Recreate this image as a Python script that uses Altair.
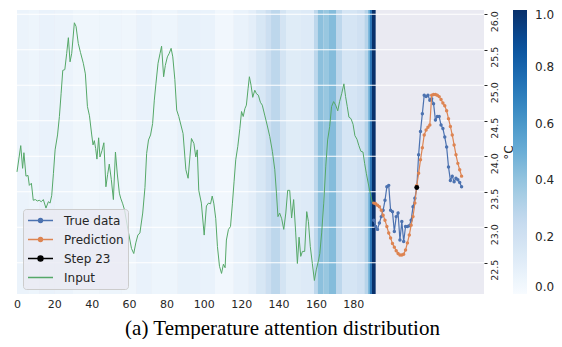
import altair as alt
import pandas as pd

# ---------------- data ----------------
# attention weights (heat-map bands over the 192 input steps)
att_start = [0, 6, 12, 20, 30, 44, 56, 64, 72, 86, 98, 106, 116, 124, 128, 133, 136, 141, 144, 152,
             159, 161, 164, 167, 171, 174, 182, 186, 188, 189, 190]
att_end = att_start[1:] + [192]
att_value = [0.06, 0.05, 0.07, 0.06, 0.04, 0.05, 0.04, 0.07, 0.05, 0.08,
             0.07, 0.03, 0.07, 0.10, 0.16, 0.22, 0.28, 0.18, 0.12, 0.13,
             0.28, 0.42, 0.39, 0.44, 0.28, 0.17, 0.20, 0.30, 0.50, 0.75, 1.0]

# input temperature (vertices)
input_step = [0, 2.0, 3.0, 3.7, 4.8, 5.9, 6.6, 7.7, 8.7, 9.8, 10.9, 11.9, 13.0, 14.1, 15.5, 16.8, 17.7,
              18.6, 19.5, 20.4, 21.7, 22.7, 23.6, 24.5, 25.6, 26.6, 27.5, 28.4, 29.3, 30.7, 31.6, 32.8,
              34.0, 35.5, 36.6, 37.7, 38.8, 40.0, 40.7, 41.4, 42.1, 42.8, 43.7, 44.4, 45.5, 46.5, 47.6,
              48.5, 49.4, 50.5, 51.6, 52.7, 53.7, 54.8, 55.5, 56.6, 57.6, 59.5, 61.3, 62.5, 63.6, 64.7,
              65.8, 67.3, 68.5, 69.4, 70.4, 71.5, 72.6, 73.5, 74.4, 75.5, 76.6, 77.4, 78.5, 79.4, 80.5,
              81.5, 82.5, 83.4, 84.5, 85.5, 86.6, 88.9, 90.4, 91.6, 93.4, 94.7, 95.7, 96.5, 97.3, 98.7,
              100.2, 101.4, 102.5, 103.6, 104.5, 105.4, 106.4, 107.3, 108.4, 109.5, 110.5, 111.4, 112.1,
              113.2, 114.3, 115.3, 116.2, 117.1, 118.2, 119.3, 120.2, 121.1, 122.0, 122.8, 123.7, 124.4,
              125.3, 126.2, 127.3, 128.2, 129.2, 130.3, 131.3, 132.6, 133.9, 135.3, 136.7, 138.0, 138.9,
              139.7, 140.6, 141.7, 142.8, 143.9, 144.9, 146.0, 147.0, 148.1, 149.2, 150.1, 151.0, 151.9,
              152.8, 154.0, 155.1, 156.0, 157.0, 158.1, 159.2, 160.2, 161.3, 162.1, 163.1, 164.2, 165.3,
              166.3, 167.4, 168.4, 169.5, 170.6, 171.7, 172.7, 173.8, 175.0, 175.9, 176.8, 177.7, 178.8,
              179.9, 180.9, 182.0, 183.0, 184.1, 185.2, 186.1, 187.0, 188.1, 189.1, 190.2, 191.0]
input_temp = [23.78, 24.15, 23.83, 24.05, 23.72, 23.73, 23.59, 23.62, 23.38, 23.39, 23.37, 23.38, 23.36,
              23.39, 23.27, 23.36, 23.34, 23.45, 23.76, 24.09, 24.30, 24.56, 24.88, 25.21, 25.22, 25.45,
              25.67, 25.33, 25.45, 25.88, 25.83, 25.59, 25.46, 25.31, 25.16, 24.70, 24.57, 24.30, 24.16,
              24.22, 24.11, 23.96, 24.26, 23.99, 24.08, 24.19, 23.57, 23.74, 23.89, 23.67, 23.39, 24.06,
              23.75, 23.48, 23.41, 23.33, 23.24, 22.95, 22.70, 22.63, 22.78, 22.89, 22.92, 23.20, 23.56,
              24.04, 24.23, 24.30, 24.46, 24.79, 25.03, 25.31, 25.45, 25.55, 25.12, 25.28, 25.40, 25.45,
              25.52, 25.40, 25.08, 24.65, 24.56, 24.32, 23.81, 23.69, 24.25, 24.18, 23.99, 24.09, 23.52,
              23.34, 22.89, 23.30, 23.34, 23.33, 23.44, 23.33, 23.12, 22.73, 22.45, 22.35, 22.48, 22.43,
              22.82, 22.97, 23.01, 23.33, 23.64, 23.95, 24.14, 24.39, 24.63, 24.56, 24.67, 24.72, 24.95,
              25.12, 25.00, 24.83, 24.93, 24.88, 24.86, 24.76, 24.72, 24.58, 24.44, 24.28, 24.07, 23.81,
              23.48, 23.15, 23.20, 23.12, 22.97, 23.20, 23.52, 23.52, 23.13, 23.39, 22.92, 22.49, 22.86,
              22.59, 22.66, 22.66, 23.22, 23.08, 22.73, 22.49, 22.25, 22.40, 22.52, 22.63, 22.92, 23.34,
              23.86, 24.23, 24.42, 24.70, 24.77, 24.72, 24.64, 24.77, 24.88, 25.02, 24.84, 24.70, 24.55,
              24.53, 24.45, 24.29, 24.24, 24.15, 24.07, 24.06, 23.90, 23.76, 23.61, 23.48, 23.35, 23.34]
assert len(input_step) == len(input_temp)

# 48-step forecast horizon
forecast_first_step = 191
true_temp = [23.10, 23.01, 22.97, 23.06, 23.15, 23.24, 23.38, 23.57, 23.59, 23.24, 23.22, 22.94,
             23.15, 23.20, 22.82, 23.08, 22.80, 23.01, 23.01, 23.02, 23.10, 23.29, 23.41, 23.55,
             24.02, 24.35, 24.60, 24.86, 24.84, 24.86, 24.79, 24.81, 24.74, 24.51, 24.56, 24.56,
             24.44, 24.39, 24.27, 24.13, 23.85, 23.66, 23.72, 23.64, 23.69, 23.67, 23.63, 23.57]
pred_temp = [23.34, 23.33, 23.31, 23.29, 23.24, 23.17, 23.10, 23.01, 22.92, 22.85, 22.77, 22.72,
             22.67, 22.63, 22.61, 22.61, 22.62, 22.68, 22.78, 22.89, 23.03, 23.15, 23.34, 23.59,
             23.76, 23.95, 24.12, 24.30, 24.37, 24.41, 24.44, 24.86, 24.87, 24.87, 24.86, 24.84,
             24.80, 24.75, 24.71, 24.64, 24.53, 24.42, 24.30, 24.16, 24.02, 23.90, 23.81, 23.72]
step_index = 23
step_temp = 23.56

series_names = ["True data", "Prediction", "Step 23", "Input"]
series_colors = ["#4C72B0", "#DD8452", "#000000", "#55A868"]
x_limits = [0, 250]
y_limits = [22.06, 26.06]
y_ticks = [22.5, 23.0, 23.5, 24.0, 24.5, 25.0, 25.5, 26.0]
x_ticks = [0, 20, 40, 60, 80, 100, 120, 140, 160, 180]
cbar_ticks = [0.0, 0.2, 0.4, 0.6, 0.8, 1.0]
blues_stops = [0, 0.125, 0.25, 0.375, 0.5, 0.625, 0.75, 0.875, 1.0]
blues_colors = ["#f7fbff", "#deebf7", "#c6dbef", "#9ecae1", "#6baed6",
                "#4292c6", "#2171b5", "#08519c", "#08306b"]

# ---------------- tables ----------------
heat = pd.DataFrame({"start": att_start, "end": att_end, "attention": att_value})
inp = pd.DataFrame({"step": input_step, "temp": input_temp})
fsteps = [forecast_first_step + i for i in range(len(true_temp))]
true_df = pd.DataFrame({"step": fsteps, "temp": true_temp})
pred_df = pd.DataFrame({"step": fsteps, "temp": pred_temp})
step_df = pd.DataFrame({"step": [forecast_first_step + step_index], "temp": [step_temp]})
grid_df = pd.DataFrame({"v": y_ticks})
legend_df = pd.DataFrame({"series": series_names})
bg_df = pd.DataFrame({"start": [x_limits[0]], "end": [x_limits[1]]})

W, H = 467, 284
xs = alt.Scale(domain=x_limits, nice=False, zero=False)
ys = alt.Scale(domain=y_limits, nice=False, zero=False)
cscale = alt.Scale(domain=blues_stops, range=blues_colors)
TXT = "#262626"

x_axis = alt.Axis(values=x_ticks, ticks=False, domain=False, grid=False, labelFlush=False,
                  labelFont="DejaVu Sans", labelFontSize=11, labelColor=TXT, labelPadding=4,
                  title="(a) Temperature attention distribution", titleFont="Liberation Serif",
                  titleFontSize=21, titleFontWeight="normal", titleColor="black",
                  titleX=265, titleY=40, titleAlign="center", titleBaseline="alphabetic")
y_axis = alt.Axis(orient="right", values=y_ticks, format=".1f", domain=False, grid=False,
                  ticks=True, tickSize=3, tickColor=TXT, labelAngle=270, labelAlign="center",
                  labelBaseline="top", labelPadding=2, labelOffset=7, labelFont="DejaVu Sans",
                  labelFontSize=9.5, labelColor=TXT, labelOverlap=False, labelFlush=False,
                  title="°C", titleAngle=270, titleX=24, titleY=142, titleAlign="center",
                  titleBaseline="middle", titleFont="DejaVu Sans", titleFontSize=12,
                  titleFontWeight="normal", titleColor=TXT)

cbar_legend = alt.Legend(title=None, orient="none", legendX=496, legendY=0, direction="vertical",
                         gradientLength=H, gradientThickness=14, gradientStrokeWidth=0,
                         values=cbar_ticks, format=".1f", labelFont="DejaVu Sans", labelFontSize=12,
                         labelColor=TXT, labelOffset=8, labelBaseline="middle", labelOverlap=False,
                         padding=0)

bg_layer = alt.Chart(bg_df).mark_rect(color="#EAEAF2").encode(
    x=alt.X("start:Q", scale=xs, axis=x_axis),
    x2="end:Q",
)

heat_layer = alt.Chart(heat).mark_rect().encode(
    x=alt.X("start:Q", scale=xs),
    x2="end:Q",
    color=alt.Color("attention:Q", scale=cscale, legend=cbar_legend),
)

grid_layer = alt.Chart(grid_df).mark_rule(color="white", strokeWidth=1).encode(
    y=alt.Y("v:Q", scale=ys, axis=y_axis)
)

def line_layer(df, color, width):
    return alt.Chart(df).mark_line(color=color, strokeWidth=width).encode(
        x=alt.X("step:Q", scale=xs), y=alt.Y("temp:Q", scale=ys))

def dot_layer(df, color, size):
    return alt.Chart(df).mark_point(color=color, filled=True, size=size, opacity=1).encode(
        x=alt.X("step:Q", scale=xs), y=alt.Y("temp:Q", scale=ys))

dot_path = "M-1,0L1,0M-0.16,0A0.16,0.16,0,1,0,0.16,0A0.16,0.16,0,1,0,-0.16,0Z"
big_dot_path = "M-1,0L1,0M-0.2,0A0.2,0.2,0,1,0,0.2,0A0.2,0.2,0,1,0,-0.2,0Z"
line_path = "M-1,0L1,0"
series_shapes = [dot_path, dot_path, big_dot_path, line_path]

def series_legend():
    return alt.Legend(title=None, orient="none", legendX=6, legendY=199, padding=4,
                      fillColor="rgba(234,234,242,0.8)", strokeColor="#cccccc", cornerRadius=3,
                      symbolSize=625, clipHeight=15, rowPadding=4, labelOffset=10,
                      labelFont="DejaVu Sans", labelFontSize=12, labelColor=TXT,
                      symbolStrokeWidth=1.4, symbolOpacity=1)

legend_layer = alt.Chart(legend_df).transform_filter("datum.series == 'none'").mark_point(
    filled=True, strokeWidth=1.4).encode(
    fill=alt.Fill("series:N", scale=alt.Scale(domain=series_names, range=series_colors),
                  legend=series_legend()),
    stroke=alt.Stroke("series:N", scale=alt.Scale(domain=series_names, range=series_colors),
                      legend=series_legend()),
    shape=alt.Shape("series:N", scale=alt.Scale(domain=series_names, range=series_shapes),
                    legend=series_legend()),
)

chart = alt.layer(
    bg_layer,
    heat_layer,
    grid_layer,
    line_layer(inp, "#55A868", 1),
    line_layer(true_df, "#4C72B0", 1.2),
    dot_layer(true_df, "#4C72B0", 12),
    line_layer(pred_df, "#DD8452", 1.2),
    dot_layer(pred_df, "#DD8452", 12),
    dot_layer(step_df, "#000000", 24),
    legend_layer,
).properties(
    width=W, height=H,
    autosize=alt.AutoSizeParams(type="none"),
    padding={"left": 9, "top": 2, "right": 70, "bottom": 45},
).configure(background="white").configure_view(stroke=None)

chart.save("out.html", embed_options={"renderer": "svg", "actions": False})
